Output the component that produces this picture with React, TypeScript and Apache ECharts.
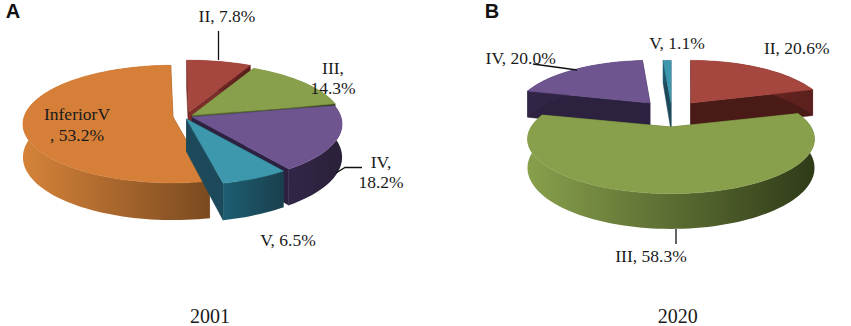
import React, { useEffect, useRef } from "react";
import * as echarts from "echarts";

// ---- data (clockwise from 12 o'clock) ----
const categoriesA = ["II", "III", "IV", "V", "InferiorV"];
const valuesA = [7.8, 14.3, 18.2, 6.5, 53.2];
const categoriesB = ["II", "III", "IV", "V"];
const valuesB = [20.6, 58.3, 20.0, 1.1];
const yearA = "2001";
const yearB = "2020";

// ---- styling / layout ----
const COLORS: Record<string, any> = {
  II: { top: "#a5463f", face: "#7c2e2a", wall: ["#7c2e2a", "#5a1f1c"] },
  III: { top: "#88a04c", face: "#566a2a", wall: ["#88a04c", "#2f3a18"] },
  IV: { top: "#6f5590", face: "#2c2240", wall: ["#322648", "#2a2038"] },
  V: { top: "#3d97ad", face: "#1c4a5b", wall: ["#1d5f72", "#1a3f4d"] },
  InferiorV: { top: "#d57f39", face: "#7c4a20", wall: ["#d68339", "#7a4a20"] },
};

const pieA = {
  cx: 190, cy: 116, rx: 149, ry: 58, d: 0.12, depth: 32.7, rot: -1,
  offset: { II: [-1, -4], III: [2.5, -1], IV: [2, 1], V: [-3.5, 3], InferiorV: [-17, 1] } as any,
  rxScale: {} as any,
  order: ["II", "III", "IV", "InferiorV", "V"],
  faceOverride: {} as any,
};
const pieB = {
  cx: 672, cy: 103, rx: 140, ry: 52, d: 0.22, depth: 27.5, rot: 0,
  offset: { II: [18.7, 0], III: [-1, 24], IV: [-22, 0], V: [-1, 0] } as any,
  rxScale: { II: 0.96, IV: 0.95 } as any,
  order: ["II", "IV", "V", "III"],
  faceOverride: { II: "#4a1a17" } as any,
};

function buildSeries(cats: string[], vals: number[], pie: any) {
  const total = vals.reduce((a, b) => a + b, 0);
  let acc = 0;
  const spans: Record<string, [number, number, number]> = {};
  cats.forEach((c, i) => {
    const s = (acc / total) * 360;
    acc += vals[i];
    spans[c] = [s, (acc / total) * 360, vals[i]];
  });
  const data = pie.order.map((c: string) => ({ name: c, value: [spans[c][2], spans[c][0], spans[c][1]] }));

  const project = (deg: number, k: number) => {
    const t = ((deg + pie.rot) * Math.PI) / 180;
    const u = Math.sin(t);
    const v = -Math.cos(t);
    const s = 1 / (1 - pie.d * v);
    return { x: pie.rx * k * u * s, y: pie.ry * v * s, s };
  };

  return {
    type: "custom",
    coordinateSystem: "none",
    silent: true,
    data,
    renderItem: (params: any, api: any) => {
      const name = pie.order[params.dataIndex];
      const a0 = api.value(1);
      const a1 = api.value(2);
      const col = COLORS[name];
      const [ox, oy] = pie.offset[name];
      const k = pie.rxScale[name] || 1;
      const ax = pie.cx + ox;
      const ay = pie.cy + oy;
      const n = Math.max(2, Math.ceil((a1 - a0) / 2));
      const rim: number[][] = [];
      const low: number[][] = [];
      for (let i = 0; i <= n; i++) {
        const p = project(a0 + ((a1 - a0) * i) / n, k);
        rim.push([ax + p.x, ay + p.y]);
        low.push([ax + p.x, ay + p.y + pie.depth * p.s]);
      }
      const faceColor = pie.faceOverride[name] || col.face;
      const apexLow = [ax, ay + pie.depth];
      const wallFill = new echarts.graphic.LinearGradient(0, 0, 1, 0, [
        { offset: 0, color: col.wall[0] },
        { offset: 1, color: col.wall[1] },
      ]);
      const children: any[] = [
        {
          type: "polygon",
          shape: { points: [[ax, ay], rim[0], low[0], apexLow] },
          style: { fill: faceColor, stroke: faceColor, lineWidth: 0.5 },
        },
        {
          type: "polygon",
          shape: { points: [[ax, ay], rim[n], low[n], apexLow] },
          style: { fill: faceColor, stroke: faceColor, lineWidth: 0.5 },
        },
        {
          type: "polygon",
          shape: { points: [...rim, ...low.slice().reverse()] },
          style: { fill: wallFill },
        },
        {
          type: "polygon",
          shape: { points: [[ax, ay], ...rim] },
          style: { fill: col.top, stroke: col.top, lineWidth: 0.5 },
        },
      ];
      return { type: "group", children };
    },
  };
}

const SERIF = '"Liberation Serif", "Times New Roman", serif';
const SANS = '"Liberation Sans", Arial, sans-serif';

function label(text: string, x: number, y: number, size = 17.5, lineHeight = 20.5) {
  return {
    type: "text",
    x,
    y,
    z: 100,
    silent: true,
    style: {
      text,
      fill: "#1a1a1a",
      font: `${size}px ${SERIF}`,
      lineHeight,
      align: "center",
      verticalAlign: "middle",
    },
  };
}

function panel(text: string, x: number, y: number) {
  return {
    type: "text",
    x,
    y,
    z: 100,
    silent: true,
    style: { text, fill: "#111", font: `bold 20px ${SANS}`, lineHeight: 20, align: "center", verticalAlign: "middle" },
  };
}

function leader(points: number[][]) {
  return {
    type: "polyline",
    silent: true,
    z: 100,
    shape: { points },
    style: { stroke: "#111", lineWidth: 1.3, fill: "none" },
  };
}

export default function App() {
  const ref = useRef<HTMLDivElement>(null);
  useEffect(() => {
    const chart = echarts.init(ref.current!, undefined, { renderer: "svg" });
    const pct = (vals: number[], i: number) => `${vals[i].toFixed(1)}%`;
    chart.setOption({
      animation: false,
      backgroundColor: "#fff",
      series: [buildSeries(categoriesA, valuesA, pieA), buildSeries(categoriesB, valuesB, pieB)],
      graphic: {
        elements: [
          panel("A", 13, 10.5),
          panel("B", 492, 10.5),
          leader([[218.5, 31], [218.5, 60]]),
          leader([[336, 173], [345, 167.5], [362, 167.5]]),
          leader([[533, 64], [577, 70]]),
          leader([[676, 229], [676, 244]]),
          label(`${categoriesA[0]}, ${pct(valuesA, 0)}`, 227, 16),
          label(`${categoriesA[1]},\n${pct(valuesA, 1)}`, 333, 78),
          label(`${categoriesA[2]},\n${pct(valuesA, 2)}`, 381, 172),
          label(`${categoriesA[3]}, ${pct(valuesA, 3)}`, 288, 240),
          label(`${categoriesA[4]}\n, ${pct(valuesA, 4)}`, 77, 124.5),
          label(yearA, 210, 315.5, 20, 20),
          label(`${categoriesB[0]}, ${pct(valuesB, 0)}`, 796.7, 48),
          label(`${categoriesB[1]}, ${pct(valuesB, 1)}`, 651, 256),
          label(`${categoriesB[2]}, ${pct(valuesB, 2)}`, 520.7, 58),
          label(`${categoriesB[3]}, ${pct(valuesB, 3)}`, 677, 43),
          label(yearB, 677.7, 315.5, 20, 20),
        ],
      },
    });
    return () => chart.dispose();
  }, []);
  return (
    <div
      ref={ref}
      style={{ position: "fixed", left: 0, top: 0, width: 851, height: 326, background: "#fff" }}
    />
  );
}
